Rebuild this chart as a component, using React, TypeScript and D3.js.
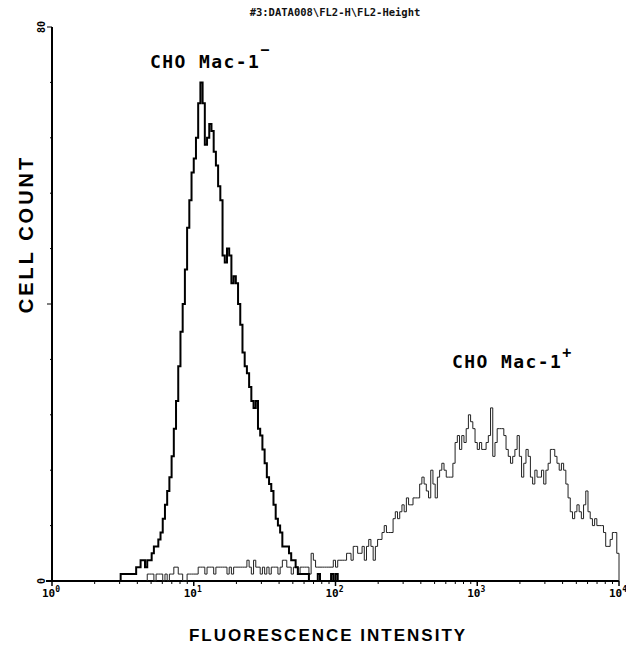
import React from "react";
import * as d3 from "d3";

// Histogram channels: 256 log channels across 4 decades (10^0 .. 10^4)
const channelCount = 256;
const decadeTicks = [1, 10, 100, 1000, 10000];
const decadeExponents = ["0", "1", "2", "3", "4"];
const yMax = 80;
const yTickValues = [0, 8, 16, 24, 32, 40, 48, 56, 64, 72, 80];

const titleText = "#3:DATA008\\FL2-H\\FL2-Height";
const negLabel = "CHO Mac-1";
const posLabel = "CHO Mac-1";

// CHO Mac-1 negative (thick line), starting at channel 31
const negStart = 31;
const negCounts = [
  1, 1, 1, 1, 1, 1, 1, 2, 2, 3, 3, 2, 3, 3, 4, 5, 5, 6, 7, 9,
  11, 13, 15, 18, 22, 26, 31, 36, 40, 45, 51, 55, 59, 61, 64, 69, 72, 69, 63, 64,
  66, 65, 62, 60, 57, 55, 47, 46, 48, 47, 43, 44, 43, 40, 37, 33, 31, 30, 28, 26,
  25, 26, 22, 21, 19, 17, 15, 14, 13, 11, 9, 8, 7, 5, 5, 5, 4, 3, 3, 2,
  1, 1, 1, 1, 1, 0, 0, 0, 0, 1, 0, 0, 0, 0, 0, 1, 0, 1, 0,
];

// CHO Mac-1 positive (thin line), starting at channel 43
const posStart = 43;
const posCounts = [
  1, 1, 1, 0, 1, 1, 1, 0, 1, 0, 1, 1, 2, 2, 1, 1, 0, 0, 1, 1,
  1, 1, 1, 2, 2, 2, 1, 2, 2, 2, 1, 2, 2, 2, 2, 2, 1, 2, 1, 2,
  2, 2, 2, 2, 2, 3, 2, 1, 3, 2, 2, 1, 2, 1, 2, 1, 2, 2, 2, 1,
  2, 3, 3, 2, 2, 1, 2, 2, 1, 2, 2, 2, 2, 1, 4, 3, 2, 2, 2, 2,
  2, 2, 2, 2, 3, 2, 3, 3, 3, 3, 4, 4, 3, 5, 5, 4, 4, 5, 3, 5,
  6, 5, 3, 5, 6, 6, 7, 8, 7, 7, 7, 9, 10, 9, 10, 11, 10, 12, 11, 11,
  12, 12, 12, 14, 15, 14, 13, 12, 16, 14, 12, 15, 16, 17, 16, 15, 15, 15, 17, 20,
  21, 19, 21, 20, 22, 24, 23, 22, 20, 19, 20, 19, 19, 20, 21, 25, 18, 20, 22, 22,
  22, 21, 19, 18, 17, 18, 19, 21, 18, 15, 17, 19, 18, 15, 14, 16, 15, 15, 16, 14,
  16, 17, 19, 19, 18, 17, 16, 17, 16, 14, 12, 10, 9, 10, 11, 10, 9, 11, 13, 10,
  9, 8, 9, 8, 8, 8, 7, 5, 5, 6, 7, 7, 4,
];

const W = 626;
const H = 651;
const left = 52;
const right = 619;
const top = 27;
const bottom = 581;

const x = d3.scaleLog().domain([1, 10000]).range([left, right]);
const y = d3.scaleLinear().domain([0, yMax]).range([bottom, top]);

const edge = (c: number) => Math.pow(10, (c * 4) / channelCount);

function stepPath(start: number, counts: number[]) {
  const pts: [number, number][] = [];
  pts.push([x(edge(start)), y(0)]);
  counts.forEach((v, i) => {
    pts.push([x(edge(start + i)), y(v)]);
  });
  const last = start + counts.length;
  pts.push([x(edge(last)), y(counts[counts.length - 1])]);
  pts.push([x(edge(last)), y(0)]);
  return d3.line().curve(d3.curveStepAfter)(pts) as string;
}

export default function App() {
  const minorTicks: number[] = [];
  for (let d = 0; d < 4; d++) {
    for (let k = 2; k <= 9; k++) minorTicks.push(k * Math.pow(10, d));
  }
  const mono = "'DejaVu Sans Mono', monospace";
  const sans = "'Liberation Sans', Arial, sans-serif";
  return (
    <svg
      width={W}
      height={H}
      style={{ position: "absolute", left: 0, top: 0, background: "#fff" }}
    >
      <rect x={0} y={0} width={W} height={H} fill="#fff" />
      <text
        x={335}
        y={16}
        textAnchor="middle"
        fontFamily={mono}
        fontWeight="bold"
        fontSize={10.5}
        fill="#111"
      >
        {titleText}
      </text>

      {/* y axis */}
      <line x1={left} y1={top} x2={left} y2={bottom} stroke="#000" strokeWidth={2} />
      {yTickValues.map((v) => (
        <line
          key={"yt" + v}
          x1={left - (v === 40 ? 5 : v === 80 ? 5 : 2)}
          x2={left}
          y1={y(v)}
          y2={y(v)}
          stroke="#000"
          strokeWidth={1}
        />
      ))}
      <text
        transform={`translate(45,${y(80)}) rotate(-90)`}
        textAnchor="middle"
        fontFamily={mono}
        fontWeight="bold"
        fontSize={10}
      >
        80
      </text>
      <text
        transform={`translate(45,${y(0)}) rotate(-90)`}
        textAnchor="middle"
        fontFamily={mono}
        fontWeight="bold"
        fontSize={10}
      >
        0
      </text>

      {/* x axis */}
      <line x1={left - 6} y1={bottom} x2={right} y2={bottom} stroke="#000" strokeWidth={2} />
      {minorTicks.map((t, i) => (
        <line key={"mt" + i} x1={x(t)} x2={x(t)} y1={bottom} y2={bottom + 3} stroke="#000" strokeWidth={1} />
      ))}
      {decadeTicks.map((t, i) => (
        <g key={"dt" + i}>
          <line x1={x(t)} x2={x(t)} y1={bottom} y2={bottom + 5} stroke="#000" strokeWidth={1.5} />
          <text x={x(t) - 1} y={597} textAnchor="middle" fontFamily={mono} fontWeight="bold" fontSize={11}>
            10
            <tspan dy={-5} fontSize={8}>
              {decadeExponents[i]}
            </tspan>
          </text>
        </g>
      ))}

      {/* histograms */}
      <path d={stepPath(posStart, posCounts)} fill="none" stroke="#222" strokeWidth={1} />
      <path d={stepPath(negStart, negCounts)} fill="none" stroke="#000" strokeWidth={2} />

      {/* labels */}
      <text x={150} y={68} fontFamily={mono} fontWeight="bold" fontSize={18} letterSpacing={1.4} fill="#000">
        {negLabel}
        <tspan dy={-13} fontSize={15}>
          −
        </tspan>
      </text>
      <text x={452} y={368} fontFamily={mono} fontWeight="bold" fontSize={18} letterSpacing={1.4} fill="#000">
        {posLabel}
        <tspan dy={-10} fontSize={15}>
          +
        </tspan>
      </text>

      <text
        transform={`translate(33,${234}) rotate(-90)`}
        textAnchor="middle"
        fontFamily={sans}
        fontWeight="bold"
        fontSize={20}
        letterSpacing={3}
      >
        CELL COUNT
      </text>
      <text
        x={328}
        y={641}
        textAnchor="middle"
        fontFamily={sans}
        fontWeight="bold"
        fontSize={17}
        letterSpacing={2}
      >
        FLUORESCENCE INTENSITY
      </text>
    </svg>
  );
}
